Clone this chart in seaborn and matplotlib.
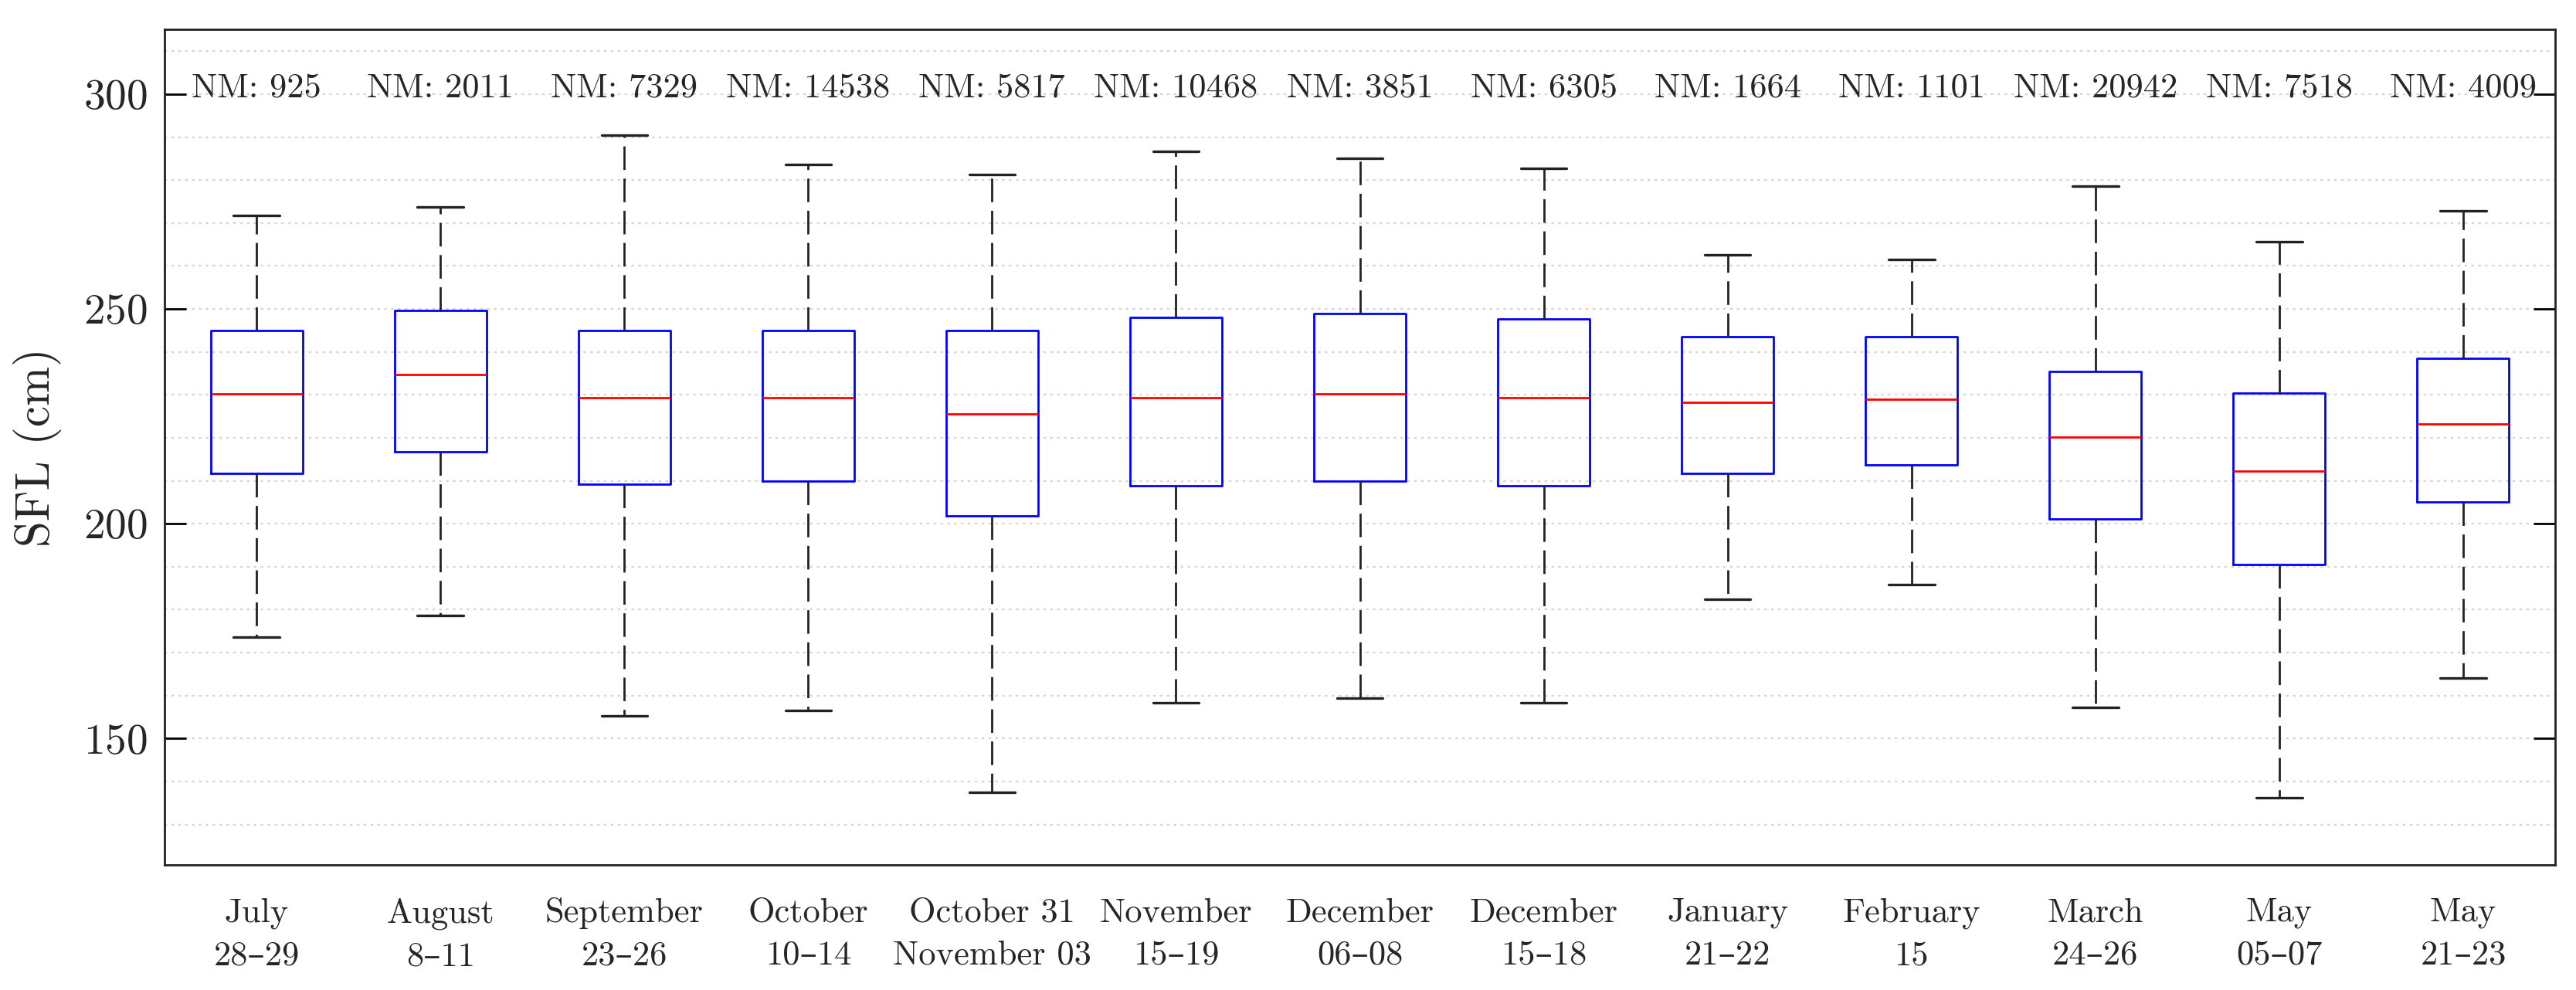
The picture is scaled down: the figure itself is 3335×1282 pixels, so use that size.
import pandas as pd
import numpy as np
import matplotlib

matplotlib.use("Agg")
import matplotlib.pyplot as plt
from matplotlib.ticker import MultipleLocator
import seaborn as sns

sns.set_style("white")
plt.rcParams["font.family"] = ["cmr10", "DejaVu Serif"]
plt.rcParams["axes.formatter.use_mathtext"] = True
plt.rcParams["mathtext.fontset"] = "cm"

# periods (x categories), five-number summaries, sample counts
periods = [
    "July\n28–29", "August\n8–11", "September\n23–26", "October\n10–14",
    "October 31\nNovember 03", "November\n15–19", "December\n06–08",
    "December\n15–18", "January\n21–22", "February\n15", "March\n24–26",
    "May\n05–07", "May\n21–23",
]
whisker_low = [173.7, 178.6, 155.3, 156.5, 137.4, 158.4, 159.5, 158.4, 182.4, 185.9, 157.3, 136.2, 164.1]
q1 = [211.8, 216.8, 209.2, 210.0, 201.9, 208.8, 210.0, 208.8, 211.8, 213.7, 201.1, 190.5, 205.0]
median = [230.2, 234.7, 229.4, 229.4, 225.6, 229.4, 230.2, 229.4, 228.2, 229.0, 220.2, 212.2, 223.3]
q3 = [245.0, 249.6, 245.0, 245.0, 245.0, 248.1, 248.9, 247.7, 243.5, 243.5, 235.5, 230.5, 238.5]
whisker_high = [271.8, 273.7, 290.5, 283.6, 281.3, 286.6, 285.1, 282.8, 262.6, 261.5, 278.6, 265.6, 272.9]
nm = [925, 2011, 7329, 14538, 5817, 10468, 3851, 6305, 1664, 1101, 20942, 7518, 4009]

#%%
rows = []
for i, p in enumerate(periods):
    for v in (whisker_low[i], q1[i], median[i], q3[i], whisker_high[i]):
        rows.append({"period": p, "sfl": v})
df = pd.DataFrame(rows)

fig = plt.figure(figsize=(16.675, 6.41), dpi=200)
ax = fig.add_axes([0.0639, 0.126, 0.928, 0.844])

sns.boxplot(
    data=df,
    x="period",
    y="sfl",
    order=periods,
    whis=(0, 100),
    width=0.5,
    fill=False,
    color="blue",
    linewidth=1.0,
    showfliers=False,
    boxprops={"color": "#0000ff", "linewidth": 1.0},
    medianprops={"color": "#ff0000", "linewidth": 1.0},
    whiskerprops={"color": "#222222", "linewidth": 1.0, "linestyle": (0, (11, 4))},
    capprops={"color": "#222222", "linewidth": 1.2},
    ax=ax,
)

for i, n in enumerate(nm):
    ax.text(i, 299.3, f"NM: {n}", ha="center", va="baseline", fontsize=16)

ax.set_xlim(-0.5, len(periods) - 0.5)
ax.set_ylim(120.5, 315)
ax.set_yticks([150, 200, 250, 300])
ax.yaxis.set_minor_locator(MultipleLocator(10))
ax.grid(which="both", axis="y", linestyle=(0, (1.5, 2.5)), color="#d4d4d4", linewidth=0.8)
ax.grid(which="both", axis="x", visible=False)
ax.set_axisbelow(True)

ax.tick_params(axis="y", which="major", direction="in", left=True, right=True,
               length=10, width=1.0, pad=8, labelsize=20, color="black")
ax.tick_params(axis="y", which="minor", length=0)
ax.tick_params(axis="x", which="both", length=0, pad=15, labelsize=16)
ax.set_xticks(range(len(periods)), periods, linespacing=1.5, multialignment="center")

ax.set_xlabel("")
ax.set_ylabel("SFL (cm)", fontsize=22, labelpad=10)
for s in ax.spines.values():
    s.set_color("#222222")
    s.set_linewidth(1.0)

plt.savefig("out.png", dpi=200)
